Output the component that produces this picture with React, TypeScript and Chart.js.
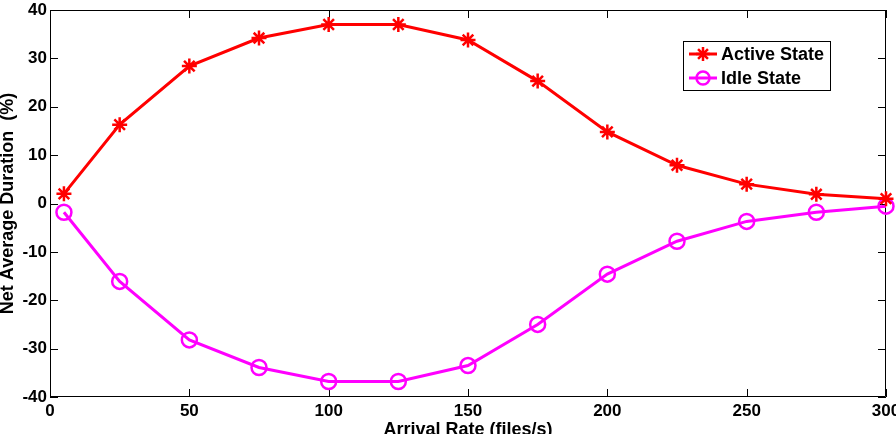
import React, { useEffect, useRef } from 'react';
import { Chart, registerables } from 'chart.js';

Chart.register(...registerables);

// Arrival rate (files/s) at which each measurement was taken
const arrivalRates = [5, 25, 50, 75, 100, 125, 150, 175, 200, 225, 250, 275, 300];
// Net average duration (%) for each state
const activeState = [2.0, 16.3, 28.4, 34.2, 37.0, 37.0, 33.8, 25.3, 14.8, 7.9, 4.0, 1.9, 1.0];
const idleState = [-1.8, -16.1, -28.2, -33.9, -36.8, -36.8, -33.5, -25.0, -14.6, -7.8, -3.7, -1.8, -0.55];

const xTicks = [0, 50, 100, 150, 200, 250, 300];
const yTicks = [-40, -30, -20, -10, 0, 10, 20, 30, 40];
const seriesNames = ['Active State', 'Idle State'];
const seriesColors = ['#ff0000', '#ff00ff'];
const xTitle = 'Arrival Rate (files/s)';
const yTitle = 'Net Average Duration  (%)';

const FONT = '"Liberation Sans", Arial, Helvetica, sans-serif';
const TICK_LEN = 8;

// Axes box with inward-pointing tick marks on all four sides
const frameTicks = {
  id: 'frameTicks',
  beforeDatasetsDraw(chart: any) {
    const { ctx, chartArea } = chart;
    const { left, right, top, bottom } = chartArea;
    const xs = chart.scales.x;
    const ys = chart.scales.y;
    ctx.save();
    ctx.strokeStyle = '#000';
    ctx.lineWidth = 1;
    ctx.beginPath();
    ctx.rect(Math.round(left) + 0.5, Math.round(top) + 0.5, Math.round(right - left) - 1, Math.round(bottom - top) - 1);
    ctx.stroke();
    ctx.beginPath();
    xTicks.forEach((v) => {
      const px = Math.round(xs.getPixelForValue(v)) + 0.5;
      ctx.moveTo(px, bottom);
      ctx.lineTo(px, bottom - TICK_LEN);
      ctx.moveTo(px, top);
      ctx.lineTo(px, top + TICK_LEN);
    });
    yTicks.forEach((v) => {
      const py = Math.round(ys.getPixelForValue(v)) + 0.5;
      ctx.moveTo(left, py);
      ctx.lineTo(left + TICK_LEN, py);
      ctx.moveTo(right, py);
      ctx.lineTo(right - TICK_LEN, py);
    });
    ctx.stroke();
    ctx.restore();
  },
};

function drawStar(ctx: CanvasRenderingContext2D, x: number, y: number, r: number) {
  ctx.beginPath();
  for (let i = 0; i < 4; i++) {
    const a = (i * Math.PI) / 4;
    ctx.moveTo(x - Math.cos(a) * r, y - Math.sin(a) * r);
    ctx.lineTo(x + Math.cos(a) * r, y + Math.sin(a) * r);
  }
  ctx.stroke();
}

// Boxed legend in the upper right of the plot area
const boxedLegend = {
  id: 'boxedLegend',
  afterDraw(chart: any) {
    const { ctx, chartArea } = chart;
    const bx = chartArea.right - 203;
    const by = chartArea.top + 31;
    const bw = 147;
    const bh = 49;
    ctx.save();
    ctx.fillStyle = '#fff';
    ctx.fillRect(bx, by, bw, bh);
    ctx.strokeStyle = '#000';
    ctx.lineWidth = 1;
    ctx.strokeRect(bx + 0.5, by + 0.5, bw, bh);
    ctx.font = `bold 18px ${FONT}`;
    ctx.textBaseline = 'middle';
    ctx.textAlign = 'left';
    seriesNames.forEach((name, i) => {
      const cy = by + 13 + i * 24;
      const color = seriesColors[i];
      ctx.strokeStyle = color;
      ctx.lineWidth = 3;
      ctx.beginPath();
      ctx.moveTo(bx + 6, cy);
      ctx.lineTo(bx + 34, cy);
      ctx.stroke();
      ctx.lineWidth = 2.5;
      if (i === 0) {
        drawStar(ctx, bx + 20, cy, 7);
      } else {
        ctx.beginPath();
        ctx.arc(bx + 20, cy, 6.5, 0, Math.PI * 2);
        ctx.stroke();
      }
      ctx.fillStyle = '#000';
      ctx.fillText(name, bx + 38, cy + 1);
    });
    ctx.restore();
  },
};

export default function App() {
  const canvasRef = useRef<HTMLCanvasElement | null>(null);

  useEffect(() => {
    if (!canvasRef.current) return;
    const chart = new Chart(canvasRef.current, {
      type: 'line',
      data: {
        datasets: [
          {
            label: seriesNames[0],
            data: arrivalRates.map((x, i) => ({ x, y: activeState[i] })),
            borderColor: seriesColors[0],
            backgroundColor: seriesColors[0],
            borderWidth: 3,
            pointStyle: 'star',
            pointRadius: 7.5,
            pointBorderWidth: 2.5,
            pointBorderColor: seriesColors[0],
            tension: 0,
            clip: false as any,
          },
          {
            label: seriesNames[1],
            data: arrivalRates.map((x, i) => ({ x, y: idleState[i] })),
            borderColor: seriesColors[1],
            backgroundColor: 'rgba(0,0,0,0)',
            borderWidth: 3,
            pointStyle: 'circle',
            pointRadius: 7.5,
            pointBorderWidth: 2.5,
            pointBorderColor: seriesColors[1],
            pointBackgroundColor: 'rgba(0,0,0,0)',
            tension: 0,
            clip: false as any,
          },
        ],
      },
      options: {
        animation: false,
        responsive: false,
        devicePixelRatio: 1,
        layout: { padding: { top: 7, right: 10, left: 0, bottom: 0 } },
        plugins: {
          legend: { display: false },
          tooltip: { enabled: false },
        },
        scales: {
          x: {
            type: 'linear',
            min: 0,
            max: 300,
            grid: { display: false, drawTicks: false },
            border: { display: false },
            afterBuildTicks: (scale: any) => {
              scale.ticks = xTicks.map((value) => ({ value }));
            },
            ticks: {
              color: '#000',
              padding: 4,
              maxRotation: 0,
              font: { family: FONT, size: 17, weight: 'bold' },
            },
            title: {
              display: true,
              text: xTitle,
              color: '#000',
              padding: { top: 0, bottom: -7 },
              font: { family: FONT, size: 18, weight: 'bold' },
            },
            afterFit: (scale: any) => {
              scale.height = 37;
              scale.paddingLeft = 0;
              scale.paddingRight = 0;
            },
          },
          y: {
            type: 'linear',
            min: -40,
            max: 40,
            grid: { display: false, drawTicks: false },
            border: { display: false },
            afterBuildTicks: (scale: any) => {
              scale.ticks = yTicks.map((value) => ({ value }));
            },
            ticks: {
              color: '#000',
              padding: 3,
              font: { family: FONT, size: 17, weight: 'bold' },
            },
            title: {
              display: true,
              text: yTitle,
              color: '#000',
              padding: { top: -3, bottom: 0 },
              font: { family: FONT, size: 18, weight: 'bold' },
            },
            afterFit: (scale: any) => {
              scale.width = 50;
              scale.paddingTop = 0;
              scale.paddingBottom = 0;
            },
          },
        },
      },
      plugins: [frameTicks, boxedLegend],
    });
    return () => chart.destroy();
  }, []);

  return (
    <div style={{ position: 'absolute', left: 0, top: 0, width: 896, height: 434, background: '#fff' }}>
      <canvas ref={canvasRef} width={896} height={434} style={{ display: 'block' }} />
    </div>
  );
}
